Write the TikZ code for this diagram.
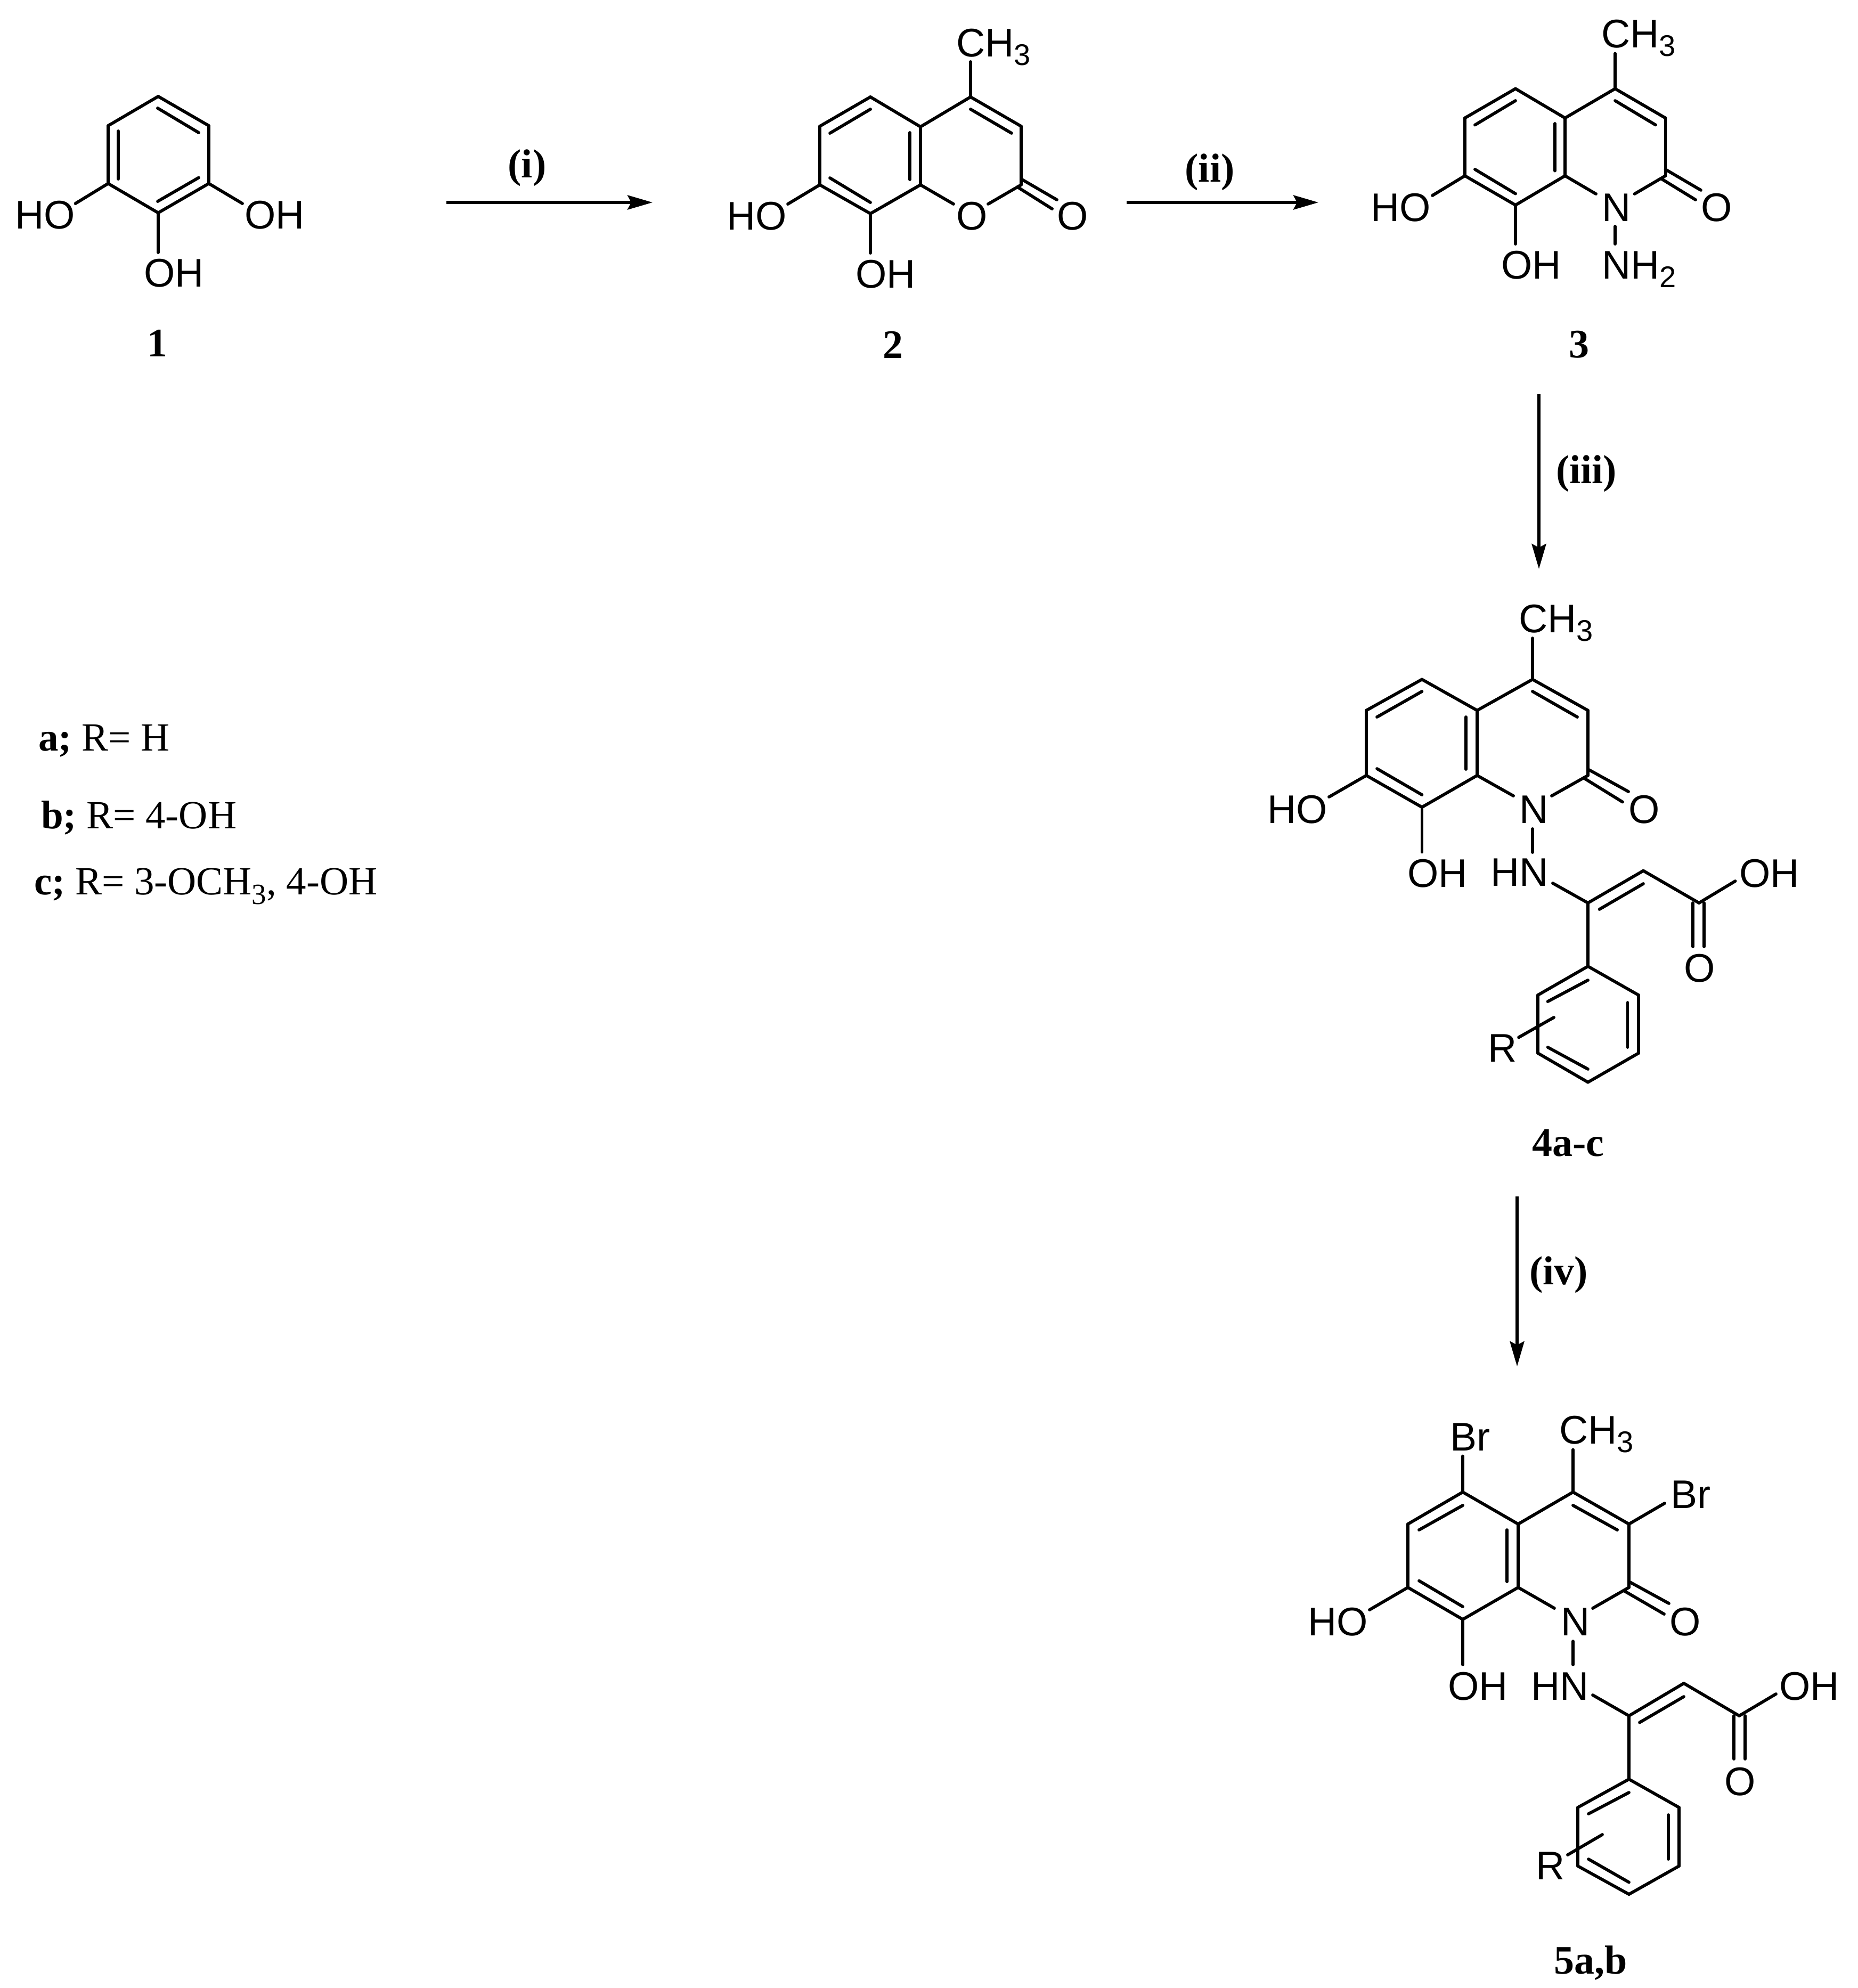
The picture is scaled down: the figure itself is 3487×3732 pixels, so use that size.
\documentclass[tikz,border=0pt]{standalone}
\usepackage{fontspec}
\setmainfont{Liberation Serif}
\newfontfamily\chemfont{Liberation Sans}
\usetikzlibrary{arrows.meta}
\newcommand\chemsub[1]{\raisebox{-1.6pt}{\fontsize{5.6}{6}\selectfont #1}}
\newcommand\serifsub[1]{\raisebox{-1.8pt}{\fontsize{5.5}{6}\selectfont #1}}
\newcommand\pts[1]{\foreach \n/\px/\py in {#1}{\coordinate (\n) at (\px,\py);}}
\newcommand\bonds[1]{\foreach \p/\q in {#1}{\draw[bond] (\p) -- (\q);}}
\tikzset{
  bond/.style={line width=0.58pt,line cap=round,black},
  rxnarrow/.style={line width=0.52pt,black,-{Stealth[length=4.7pt,width=2.7pt,inset=0.7pt]}},
  atom/.style={font=\chemfont\fontsize{7.5}{9}\selectfont,inner sep=0pt,anchor=base west,text=black},
  cmpd/.style={font=\bfseries\fontsize{7.6}{9}\selectfont,inner sep=0pt,anchor=base,text=black},
  rgroup/.style={font=\fontsize{7.5}{9}\selectfont,inner sep=0pt,anchor=base west,text=black}
}
\begin{document}
\begin{tikzpicture}[x=0.1pt,y=-0.1pt]
\path[fill=white,use as bounding box] (0,0) rectangle (3487,3732);

% ---------- compound 1
\pts{A1/297/181,A2/392/236,A3/392/344.5,A4/297/399.5,A5/203/344.5,A6/203/236,
     Ai1/296/203,Ai2/373/249,Ai3/373/333.5,Ai4/296/378,Ai5/222/336,Ai6/222/246,
     Ae1/141.6/382,Ae2/455/382,Ae3/297/474}
\bonds{A1/A2,A2/A3,A3/A4,A4/A5,A5/A6,A6/A1,Ai1/Ai2,Ai3/Ai4,Ai5/Ai6,A5/Ae1,A3/Ae2,A4/Ae3}
\node[atom] (Aho) at (26,429) {HO};
\node[atom] (Aohr) at (457,429) {OH};
\node[atom] (Aohb) at (268,538) {OH};
\node[cmpd] (Alab) at (295,669) {1};

% ---------- compound 2
\pts{B1/1634/182,B2/1728/238,B3/1728/347,B4/1634/401,B5/1539/347,B6/1539/237,
     B7/1822/182,B8/1917/237,B9/1917/347,
     Bi1/1558/250,Bi2/1634/205,Bi3/1558/334,Bi4/1634/380,Bi5/1708/249,Bi6/1708/337,
     Bi7/1822/205,Bi8/1899/250,
     Be1/1822/116,Be2/1479/383,Be3/1634/475,Be4/1790/383,Be5/1855/383,
     Bo1/1917/336,Bo2/1984/375,Bo3/1910/351,Bo4/1975/392}
\bonds{B1/B2,B2/B3,B3/B4,B4/B5,B5/B6,B6/B1,B2/B7,B7/B8,B8/B9,
       Bi1/Bi2,Bi3/Bi4,Bi5/Bi6,Bi7/Bi8,B7/Be1,B5/Be2,B4/Be3,B3/Be4,B9/Be5,Bo1/Bo2,Bo3/Bo4}
\node[atom] (Bch) at (1793,106) {CH\chemsub{3}};
\node[atom] (Bho) at (1362,431) {HO};
\node[atom] (Boh) at (1604,540) {OH};
\node[atom] (Bor) at (1793,431) {O};
\node[atom] (Boc) at (1982,431) {O};
\node[cmpd] (Blab) at (1676,672) {2};

% ---------- compound 3
\pts{C1/2845/166.5,C2/2938/221.5,C3/2938/330,C4/2845/385,C5/2750/330,C6/2750/221.5,
     C7/3032/166.5,C8/3126.5/221.5,C9/3126.5/330,
     Ci1/2769/234.5,Ci2/2845/189,Ci3/2769/318,Ci4/2845/363.6,Ci5/2919/232,Ci6/2919/320.6,
     Ci7/3032/189,Ci8/3108/234.5,
     Ce1/3032/100.5,Ce2/2689/367,Ce3/2845/458,Ce4/2996/364,Ce5/3068.5/364,
     Cn1/3032/425,Cn2/3032/458,
     Co1/3126.5/318,Co2/3193/357,Co3/3119.5/336,Co4/3183/375}
\bonds{C1/C2,C2/C3,C3/C4,C4/C5,C5/C6,C6/C1,C2/C7,C7/C8,C8/C9,
       Ci1/Ci2,Ci3/Ci4,Ci5/Ci6,Ci7/Ci8,C7/Ce1,C5/Ce2,C4/Ce3,C3/Ce4,C9/Ce5,Cn1/Cn2,Co1/Co2,Co3/Co4}
\node[atom] (Cch) at (3004,89.5) {CH\chemsub{3}};
\node[atom] (Cho) at (2571,415) {HO};
\node[atom] (Coh) at (2816,523) {OH};
\node[atom] (Cn) at (3005,415) {N};
\node[atom] (Cnh) at (3005,523) {NH\chemsub{2}};
\node[atom] (Coc) at (3191,415) {O};
\node[cmpd] (Clab) at (2964,671) {3};

% ---------- compound 4
\pts{D1/2669.4/1275.4,D2/2773/1333.6,D3/2773/1455.7,D4/2669.4/1515.3,D5/2565/1455.7,D6/2565/1333.6,
     D7/2877/1275.4,D8/2981/1333.6,D9/2981/1455.7,
     Di1/2585/1346,Di2/2669.4/1298,Di3/2585/1443,Di4/2669.4/1492,Di5/2752/1346,Di6/2752/1444,
     Di7/2877/1298,Di8/2961/1346,
     De1/2877/1198,De2/2495/1496,De3/2669.4/1599.5,De4/2841/1494,De5/2913/1494,
     Dn1/2877/1556,Dn2/2877/1600,
     Do1/2981/1444,Do2/3057/1486,Do3/2974/1461,Do4/3046/1505.5,
     Dv1/2915/1658,Dv2/2981/1695,Dv3/3085/1634.6,Dv4/3189.5/1695,
     Dv5/3257.6/1654,Dv6/3002.5/1707,Dv7/3085/1659,
     Dc1/3178/1695,Dc2/3178/1777,Dc3/3199/1695,Dc4/3199/1777,
     P1/2981/1814,P2/3076/1868,P3/3076/1977,P4/2981/2031.6,P5/2887/1977,P6/2887/1868,
     Pi1/2905.6/1880,Pi2/2981/1840,Pi3/3055.5/1882,Pi4/3055.5/1966,Pi5/2905.6/1966,Pi6/2981/2007,
     Pr1/2851/1947.4,Pr2/2917/1910}
\bonds{D1/D2,D2/D3,D3/D4,D4/D5,D5/D6,D6/D1,D2/D7,D7/D8,D8/D9,
       Di1/Di2,Di3/Di4,Di5/Di6,Di7/Di8,D7/De1,D5/De2,D4/De3,D3/De4,D9/De5,Dn1/Dn2,Do1/Do2,Do3/Do4,
       Dv1/Dv2,Dv2/Dv3,Dv3/Dv4,Dv4/Dv5,Dv6/Dv7,Dc1/Dc2,Dc3/Dc4,Dv2/P1,
       P1/P2,P2/P3,P3/P4,P4/P5,P5/P6,P6/P1,Pi1/Pi2,Pi3/Pi4,Pi5/Pi6,Pr1/Pr2}
\node[atom] (Dch) at (2849,1187) {CH\chemsub{3}};
\node[atom] (Dho) at (2377,1545) {HO};
\node[atom] (Doh) at (2640,1665) {OH};
\node[atom] (Dn) at (2850,1545) {N};
\node[atom] (Doc) at (3055,1545) {O};
\node[atom] (Dhn) at (2796,1663) {HN};
\node[atom] (Dohr) at (3263,1665) {OH};
\node[atom] (Dob) at (3159,1843) {O};
\node[atom] (Dr) at (2791,1993) {R};
\node[cmpd] (Dlab) at (2943.5,2170) {4a-c};

% ---------- compound 5
\pts{E1/2746/2801,E2/2850/2861,E3/2850/2980,E4/2746/3040,E5/2643/2980,E6/2643/2861,
     E7/2953/2801,E8/3058/2861,E9/3058/2980,
     Ei1/2664/2872,Ei2/2746/2826,Ei3/2664/2967.5,Ei4/2746/3016,Ei5/2829/2872,Ei6/2829/2969,
     Ei7/2953/2826,Ei8/3036/2872,
     Ee1/2746/2733.5,Ee2/2953/2721.4,Ee3/3125/2822,Ee4/2571/3022,Ee5/2746/3125,Ee6/2918/3019,Ee7/2990/3019,
     En1/2953/3081,En2/2953/3125,
     Eo1/3058/2969,Eo2/3133/3010,Eo3/3050/2987,Eo4/3124/3030,
     Ev1/2990/3182,Ev2/3058/3221,Ev3/3161/3160,Ev4/3265/3221,
     Ev5/3334/3180,Ev6/3078/3233.5,Ev7/3161/3185,
     Ec1/3255/3221,Ec2/3255/3302,Ec3/3276/3221,Ec4/3276/3302,
     Q1/3058/3340,Q2/3152/3393,Q3/3152/3503,Q4/3058/3556,Q5/2962/3503,Q6/2962/3393,
     Qi1/2982/3405,Qi2/3058/3365,Qi3/3132/3407,Qi4/3132/3490,Qi5/2982/3490,Qi6/3058/3533.5,
     Qr1/2943/3482,Qr2/3008/3444}
\bonds{E1/E2,E2/E3,E3/E4,E4/E5,E5/E6,E6/E1,E2/E7,E7/E8,E8/E9,
       Ei1/Ei2,Ei3/Ei4,Ei5/Ei6,Ei7/Ei8,E1/Ee1,E7/Ee2,E8/Ee3,E5/Ee4,E4/Ee5,E3/Ee6,E9/Ee7,En1/En2,
       Eo1/Eo2,Eo3/Eo4,Ev1/Ev2,Ev2/Ev3,Ev3/Ev4,Ev4/Ev5,Ev6/Ev7,Ec1/Ec2,Ec3/Ec4,Ev2/Q1,
       Q1/Q2,Q2/Q3,Q3/Q4,Q4/Q5,Q5/Q6,Q6/Q1,Qi1/Qi2,Qi3/Qi4,Qi5/Qi6,Qr1/Qr2}
\node[atom] (Ebr) at (2720,2723) {Br};
\node[atom] (Ech) at (2925,2710) {CH\chemsub{3}};
\node[atom] (Ebrr) at (3134,2831) {Br};
\node[atom] (Eho) at (2453,3070) {HO};
\node[atom] (Eoh) at (2716,3191) {OH};
\node[atom] (En) at (2928,3070) {N};
\node[atom] (Eoc) at (3132,3070) {O};
\node[atom] (Ehn) at (2872,3191) {HN};
\node[atom] (Eohr) at (3338,3191) {OH};
\node[atom] (Eob) at (3235,3370) {O};
\node[atom] (Er) at (2881,3528) {R};
\node[cmpd] (Elab) at (2986,3705) {5a,b};

% ---------- reaction arrows
\pts{R1s/838/380,R1e/1225/380,R2s/2115/380,R2e/2475/380,R3s/2889/740,R3e/2889/1068,R4s/2848/2246,R4e/2848/2565}
\draw[rxnarrow] (R1s) -- (R1e);
\draw[rxnarrow] (R2s) -- (R2e);
\draw[rxnarrow] (R3s) -- (R3e);
\draw[rxnarrow] (R4s) -- (R4e);
\node[cmpd] (Ri) at (989.5,333.5) {(i)};
\node[cmpd] (Rii) at (2271,341) {(ii)};
\node[cmpd] (Riii) at (2978,907) {(iii)};
\node[cmpd] (Riv) at (2926,2411) {(iv)};

% ---------- R groups
\node[rgroup] (Ga) at (70,1409) {\textbf{a;} R= H};
\node[rgroup] (Gb) at (75,1555) {\textbf{b;} R= 4-OH};
\node[rgroup] (Gc) at (62,1679) {\textbf{c;} R= 3-OCH\serifsub{3}, 4-OH};
\end{tikzpicture}
\end{document}
